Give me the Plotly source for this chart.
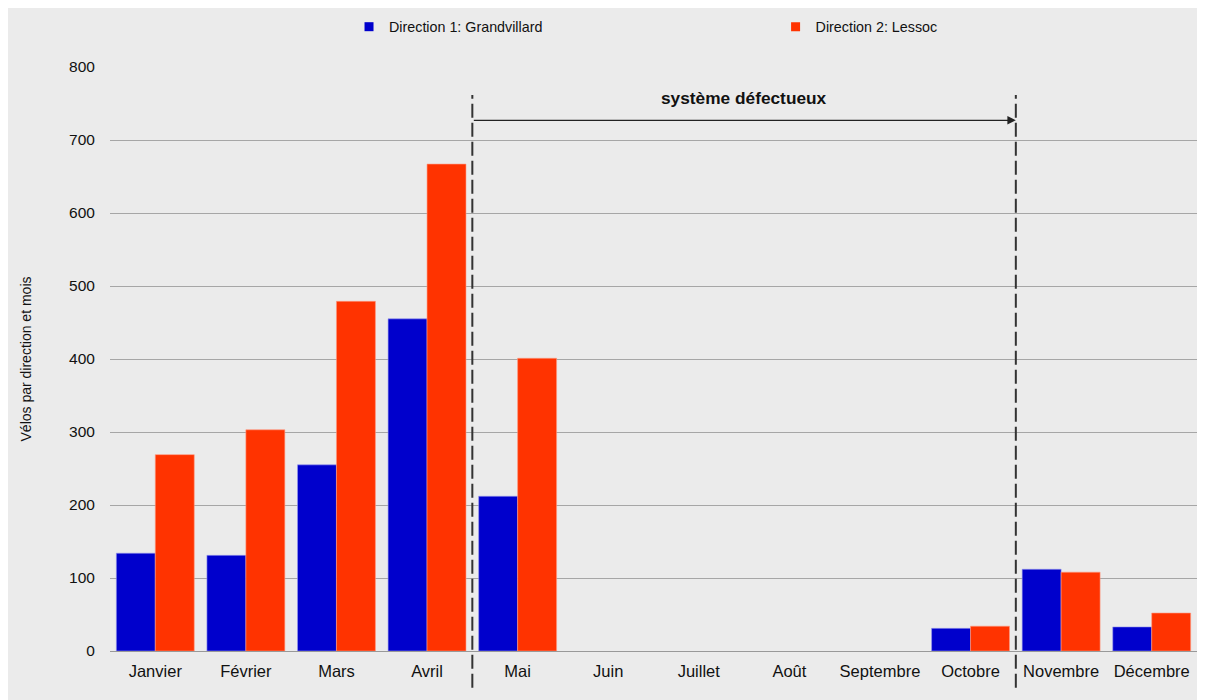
import plotly.graph_objects as go

months = ["Janvier", "Février", "Mars", "Avril", "Mai", "Juin", "Juillet",
          "Août", "Septembre", "Octobre", "Novembre", "Décembre"]
dir1 = [134, 131, 255, 455, 212, None, None, None, None, 31, 112, 33]
dir2 = [269, 303, 479, 667, 401, None, None, None, None, 34, 108, 52]
name1 = "Direction 1: Grandvillard"
name2 = "Direction 2: Lessoc"
y_ticks = [0, 100, 200, 300, 400, 500, 600, 700, 800]
fault_start, fault_end = 3.5, 9.5
fault_label = "système défectueux"

FONT = "Liberation Sans, Arial, sans-serif"
BG = "#ebebeb"
BLUE = "#0000cc"
RED = "#ff3300"

fig = go.Figure()
fig.add_trace(go.Bar(x=months, y=dir1, name=name1, showlegend=False,
                     marker=dict(color=BLUE, line=dict(color="#9999ee", width=0.6))))
fig.add_trace(go.Bar(x=months, y=dir2, name=name2, showlegend=False,
                     marker=dict(color=RED, line=dict(color="#ff9980", width=0.6))))
# legend entries (small square markers like the reference)
fig.add_trace(go.Scatter(x=[None], y=[None], mode="markers", name=name1, legend="legend",
                         marker=dict(symbol="square", size=9, color=BLUE)))
fig.add_trace(go.Scatter(x=[None], y=[None], mode="markers", name=name2, legend="legend2",
                         marker=dict(symbol="square", size=9, color=RED)))

for xv in (fault_start, fault_end):
    fig.add_shape(type="line", xref="x", yref="paper", x0=xv, x1=xv, y0=-0.063, y1=0.952,
                  line=dict(color="#333333", width=2, dash="14px,5px"))

fig.add_annotation(x=fault_end, y=727, ax=fault_start, ay=727, xref="x", yref="y",
                   axref="x", ayref="y", showarrow=True, arrowhead=2, arrowsize=1.3,
                   arrowwidth=1.3, arrowcolor="#222222", text="")
fig.add_annotation(x=(fault_start + fault_end) / 2, y=757, xref="x", yref="y", showarrow=False,
                   text="<b>" + fault_label + "</b>", font=dict(family=FONT, size=17.3, color="#111111"))

legend_common = dict(orientation="h", xref="container", yref="container", yanchor="middle",
                     xanchor="left", y=0.973, bgcolor="rgba(0,0,0,0)", itemwidth=30,
                     font=dict(family=FONT, size=14.3, color="#111111"))

fig.update_layout(
    width=1205, height=700,
    paper_bgcolor=BG, plot_bgcolor=BG,
    margin=dict(l=102, r=16, t=59, b=57, autoexpand=False),
    barmode="group", bargap=0.14, bargroupgap=0,
    font=dict(family=FONT, size=15, color="#111111"),
    legend=dict(x=0.283, **legend_common),
    legend2=dict(x=0.637, **legend_common),
    xaxis=dict(range=[-0.5, 11.5], showgrid=False, showline=True, linecolor="#999999",
               linewidth=1, ticks="outside", ticklen=5, tickcolor=BG, tickfont=dict(size=16.5)),
    yaxis=dict(range=[0, 800], tickvals=y_ticks, showgrid=True, gridcolor="#a6a6a6",
               gridwidth=1, zeroline=False, ticks="outside", ticklen=11, tickcolor=BG,
               tickfont=dict(size=15.5),
               title=dict(text="Vélos par direction et mois", font=dict(size=14), standoff=34)),
)

fig.write_html("out.html")
